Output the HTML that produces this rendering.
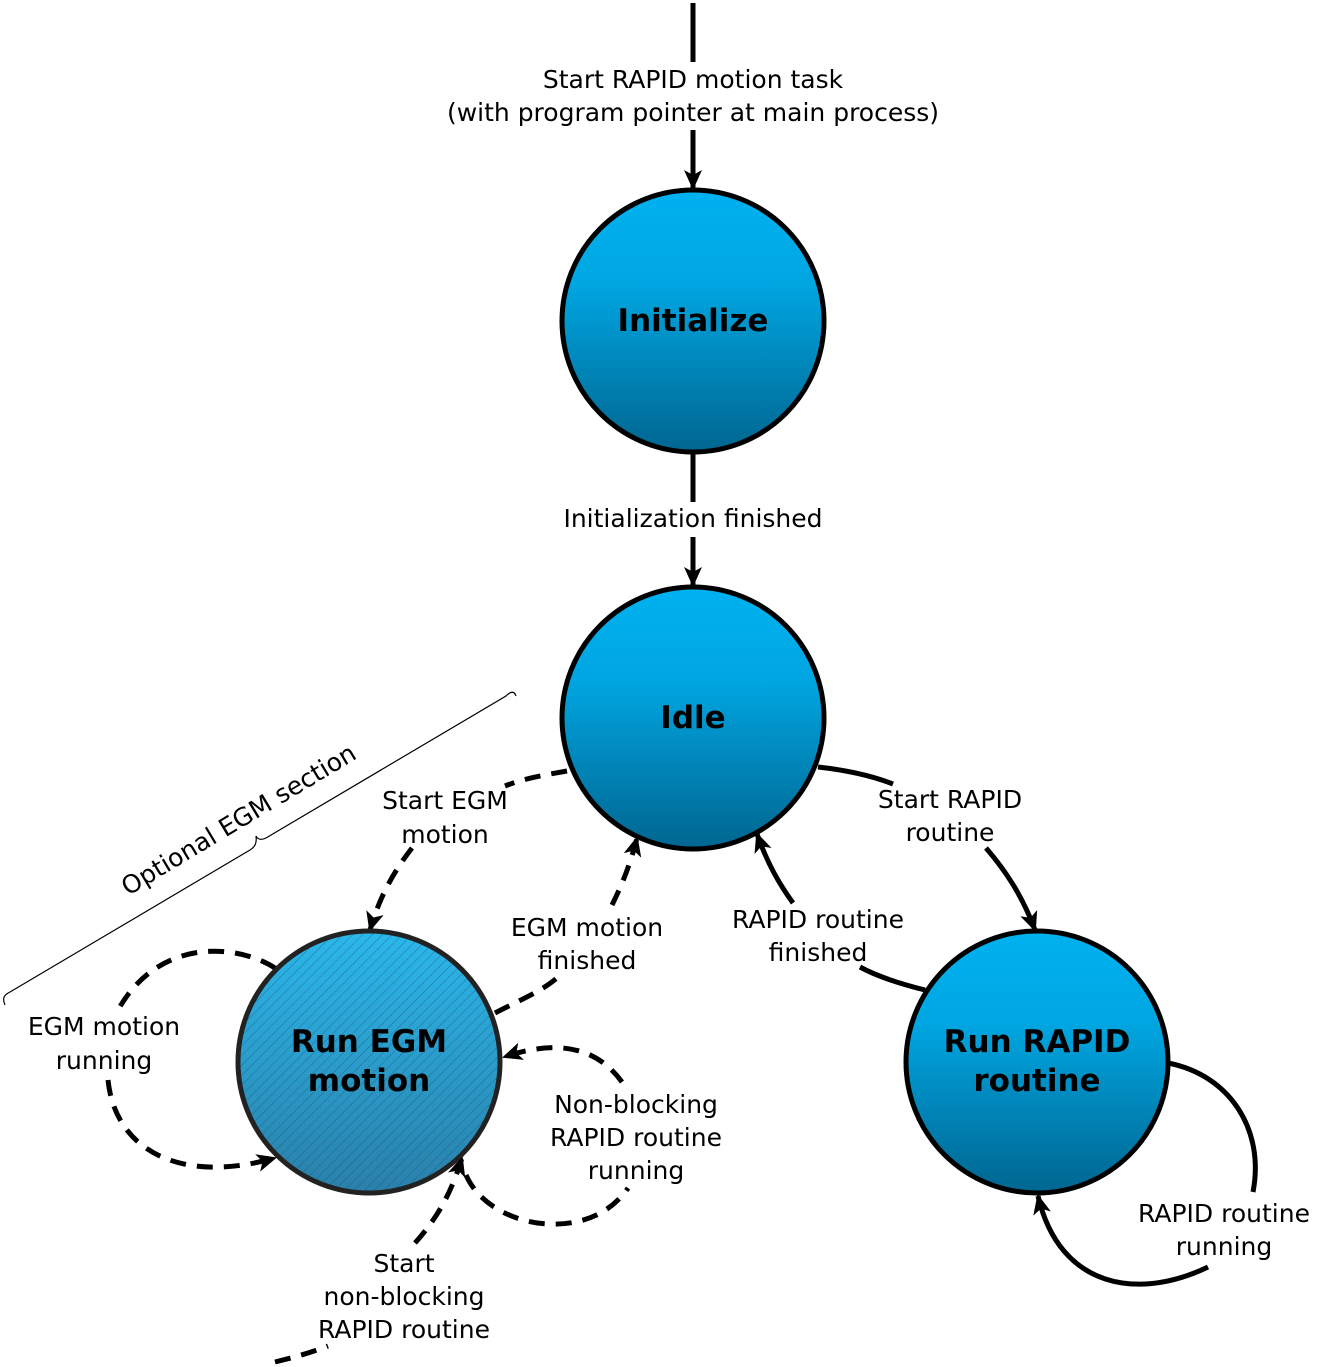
<!DOCTYPE html>
<html><head><meta charset="utf-8"><style>
html,body{margin:0;padding:0;background:#fff;}
svg{display:block;}
text{font-family:"DejaVu Sans","Liberation Sans",sans-serif;}
.l{font-size:25px;fill:#000;}
.b{font-size:31px;font-weight:bold;fill:#000;}
</style></head><body>
<svg width="1338" height="1367" viewBox="0 0 1338 1367" xmlns="http://www.w3.org/2000/svg">
<defs>
<linearGradient id="g" x1="0" y1="0" x2="0" y2="1">
<stop offset="0" stop-color="#00b2f0"/>
<stop offset="0.35" stop-color="#00a6e2"/>
<stop offset="1" stop-color="#006690"/>
</linearGradient>
<linearGradient id="g2" x1="0" y1="0" x2="0" y2="1">
<stop offset="0" stop-color="#2bb8ec"/>
<stop offset="1" stop-color="#2a80aa"/>
</linearGradient>
<pattern id="h" width="7" height="7" patternUnits="userSpaceOnUse" patternTransform="rotate(45)">
<line x1="0" y1="0" x2="0" y2="7" stroke="#1a4a66" stroke-width="1" opacity="0.6"/>
</pattern>
<marker id="a" viewBox="0 0 20 20" refX="18" refY="10" markerWidth="20" markerHeight="20" markerUnits="userSpaceOnUse" orient="auto">
<path d="M0,1 L20,10 L0,19 L5,10 Z" fill="#000"/>
</marker>
</defs>

<!-- top -->
<line x1="693" y1="3" x2="693" y2="62" stroke="#000" stroke-width="5"/>
<line x1="693" y1="130" x2="693" y2="188" stroke="#000" stroke-width="5" marker-end="url(#a)"/>
<text class="l" x="693" y="88" text-anchor="middle">Start RAPID motion task</text>
<text class="l" x="693" y="121" text-anchor="middle">(with program pointer at main process)</text>

<line x1="693" y1="452" x2="693" y2="502" stroke="#000" stroke-width="5"/>
<line x1="693" y1="537" x2="693" y2="585" stroke="#000" stroke-width="5" marker-end="url(#a)"/>
<text class="l" x="693" y="527" text-anchor="middle">Initialization finished</text>

<!-- brace -->
<path d="M5,1005 C2,998 4,995 10,992 L250,850 C255,847 257,843 256,836 C258,840 262,840 266,838 L506,696 C510,692 514,690 516,696" fill="none" stroke="#000" stroke-width="1.2"/>
<text class="l" x="243" y="827" text-anchor="middle" transform="rotate(-31 243 827)">Optional EGM section</text>

<!-- dashed edges -->
<g fill="none" stroke="#000" stroke-width="5" stroke-dasharray="16,11">
<path d="M567,771 C545,775 525,778 505,786"/>
<path d="M412,848 C395,870 380,895 370,930" marker-end="url(#a)"/>
<path d="M495,1013 C520,1000 545,990 560,975"/>
<path d="M612,905 C622,885 630,865 637,838" marker-end="url(#a)"/>
<path d="M275,968 C240,945 160,935 118,1010"/>
<path d="M108,1080 C115,1150 180,1185 275,1158" marker-end="url(#a)"/>
<path d="M622,1082 C595,1045 555,1040 504,1057" marker-end="url(#a)"/>
<path d="M466,1175 C490,1230 590,1245 628,1188"/>
<path d="M275,1362 C295,1357 310,1353 328,1346"/>
<path d="M415,1243 C440,1215 452,1190 462,1158" marker-end="url(#a)"/>
</g>
<!-- solid edges -->
<g fill="none" stroke="#000" stroke-width="5">
<path d="M818,767 C845,770 870,775 893,784"/>
<path d="M986,848 C1005,870 1022,895 1035,930" marker-end="url(#a)"/>
<path d="M925,990 C905,985 880,978 860,967"/>
<path d="M793,903 C780,885 768,865 757,834" marker-end="url(#a)"/>
<path d="M1168,1063 C1230,1075 1265,1130 1253,1192"/>
<path d="M1208,1267 C1140,1300 1060,1290 1038,1196" marker-end="url(#a)"/>
</g>

<!-- labels -->
<text class="l" x="445" y="809" text-anchor="middle">Start EGM</text>
<text class="l" x="445" y="843" text-anchor="middle">motion</text>
<text class="l" x="587" y="936" text-anchor="middle">EGM motion</text>
<text class="l" x="587" y="969" text-anchor="middle">finished</text>
<text class="l" x="950" y="808" text-anchor="middle">Start RAPID</text>
<text class="l" x="950" y="841" text-anchor="middle">routine</text>
<text class="l" x="818" y="928" text-anchor="middle">RAPID routine</text>
<text class="l" x="818" y="961" text-anchor="middle">finished</text>
<text class="l" x="104" y="1035" text-anchor="middle">EGM motion</text>
<text class="l" x="104" y="1069" text-anchor="middle">running</text>
<text class="l" x="636" y="1113" text-anchor="middle">Non-blocking</text>
<text class="l" x="636" y="1146" text-anchor="middle">RAPID routine</text>
<text class="l" x="636" y="1179" text-anchor="middle">running</text>
<text class="l" x="404" y="1272" text-anchor="middle">Start</text>
<text class="l" x="404" y="1305" text-anchor="middle">non-blocking</text>
<text class="l" x="404" y="1338" text-anchor="middle">RAPID routine</text>
<text class="l" x="1224" y="1222" text-anchor="middle">RAPID routine</text>
<text class="l" x="1224" y="1255" text-anchor="middle">running</text>

<!-- nodes -->
<circle cx="693" cy="321" r="131" fill="url(#g)" stroke="#000" stroke-width="5"/>
<text class="b" x="693" y="331" text-anchor="middle">Initialize</text>
<circle cx="693" cy="718" r="131" fill="url(#g)" stroke="#000" stroke-width="5"/>
<text class="b" x="693" y="728" text-anchor="middle">Idle</text>
<circle cx="369" cy="1062" r="131" fill="url(#g2)" stroke="#222" stroke-width="5"/>
<circle cx="369" cy="1062" r="129" fill="url(#h)"/>
<text class="b" x="369" y="1052" text-anchor="middle">Run EGM</text>
<text class="b" x="369" y="1091" text-anchor="middle">motion</text>
<circle cx="1037" cy="1062" r="131" fill="url(#g)" stroke="#000" stroke-width="5"/>
<text class="b" x="1037" y="1052" text-anchor="middle">Run RAPID</text>
<text class="b" x="1037" y="1091" text-anchor="middle">routine</text>
</svg>
</body></html>
